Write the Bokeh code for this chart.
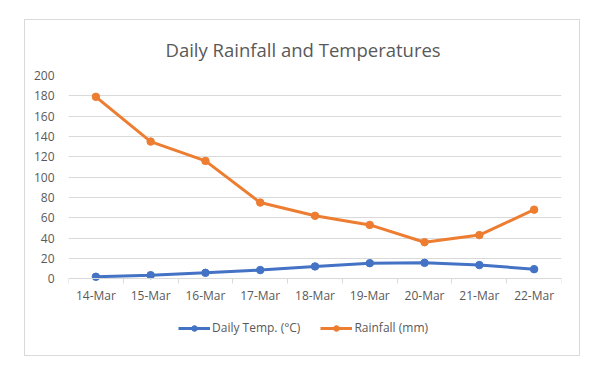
from bokeh.plotting import figure
from bokeh.models import Range1d, FixedTicker, Legend, LegendItem, Title
from bokeh.embed import file_html
from bokeh.resources import INLINE

dates = ["14-Mar", "15-Mar", "16-Mar", "17-Mar", "18-Mar", "19-Mar", "20-Mar", "21-Mar", "22-Mar"]
temp = [2, 3.6, 5.9, 8.6, 12.2, 15.4, 15.7, 13.5, 9.5]
rain = [179, 135, 116, 75, 62, 53, 36, 43, 68]
y_ticks = list(range(0, 201, 20))

BLUE = "#4472C4"
ORANGE = "#ED7D31"
GRID = "#D9D9D9"
TXT = "#595959"
FONT = "Open Sans"

xs = list(range(1, len(dates) + 1))
bounds = [x - 0.5 for x in xs] + [xs[-1] + 0.5]

# the lower part of the frame holds the axis labels and legend; 0 sits at the axis line
p = figure(width=554, height=335, output_backend="svg", toolbar_location=None,
           x_range=Range1d(bounds[0], bounds[-1]), y_range=Range1d(-65.6, 200),
           min_border_left=43, min_border_right=18, min_border_top=55, min_border_bottom=10,
           margin=(20, 0, 0, 25))
p.styles = {"outline": "1px solid #D9D9D9"}
p.outline_line_color = None
p.background_fill_color = "white"
p.border_fill_color = "white"

p.title = Title(text="Daily Rainfall and Temperatures", align="left",
                text_font=FONT, text_font_size="18.5px", text_color=TXT,
                text_font_style="normal", standoff=28, offset=97)

p.xgrid.visible = False
p.ygrid.grid_line_color = GRID
p.ygrid.grid_line_width = 1
p.ygrid.ticker = FixedTicker(ticks=y_ticks)

p.yaxis.ticker = FixedTicker(ticks=y_ticks)
p.yaxis.axis_line_color = None
p.yaxis.major_tick_line_color = None
p.yaxis.minor_tick_line_color = None
p.yaxis.major_label_standoff = 8
p.yaxis.major_label_text_font = FONT
p.yaxis.major_label_text_font_size = "12px"
p.yaxis.major_label_text_color = TXT

p.xaxis.fixed_location = 0
p.xaxis.ticker = FixedTicker(ticks=xs, minor_ticks=bounds)
p.xaxis.major_label_overrides = {x: d for x, d in zip(xs, dates)}
p.xaxis.axis_line_color = GRID
p.xaxis.axis_line_width = 1
p.xaxis.major_tick_line_color = None
p.xaxis.major_tick_in = 0
p.xaxis.major_tick_out = 0
p.xaxis.minor_tick_line_color = GRID
p.xaxis.minor_tick_in = 0
p.xaxis.minor_tick_out = 5
p.xaxis.major_label_standoff = 3
p.xaxis.major_label_text_font = FONT
p.xaxis.major_label_text_font_size = "12px"
p.xaxis.major_label_text_color = TXT

tl = p.line(xs, temp, line_color=BLUE, line_width=3)
ts = p.scatter(xs, temp, size=7.5, fill_color=BLUE, line_color=BLUE)
rl = p.line(xs, rain, line_color=ORANGE, line_width=3)
rs = p.scatter(xs, rain, size=7.5, fill_color=ORANGE, line_color=ORANGE)

legend = Legend(items=[LegendItem(label="Daily Temp. (°C)", renderers=[tl, ts]),
                       LegendItem(label="Rainfall (mm)", renderers=[rl, rs])],
                location=(110, 9), orientation="horizontal",
                border_line_color=None, background_fill_alpha=0,
                padding=0, margin=0, spacing=20, glyph_width=32, glyph_height=14,
                label_standoff=2, label_text_font=FONT, label_text_font_size="12px",
                label_text_color=TXT)
p.add_layout(legend)

open("out.html", "w").write(file_html(p, INLINE))
